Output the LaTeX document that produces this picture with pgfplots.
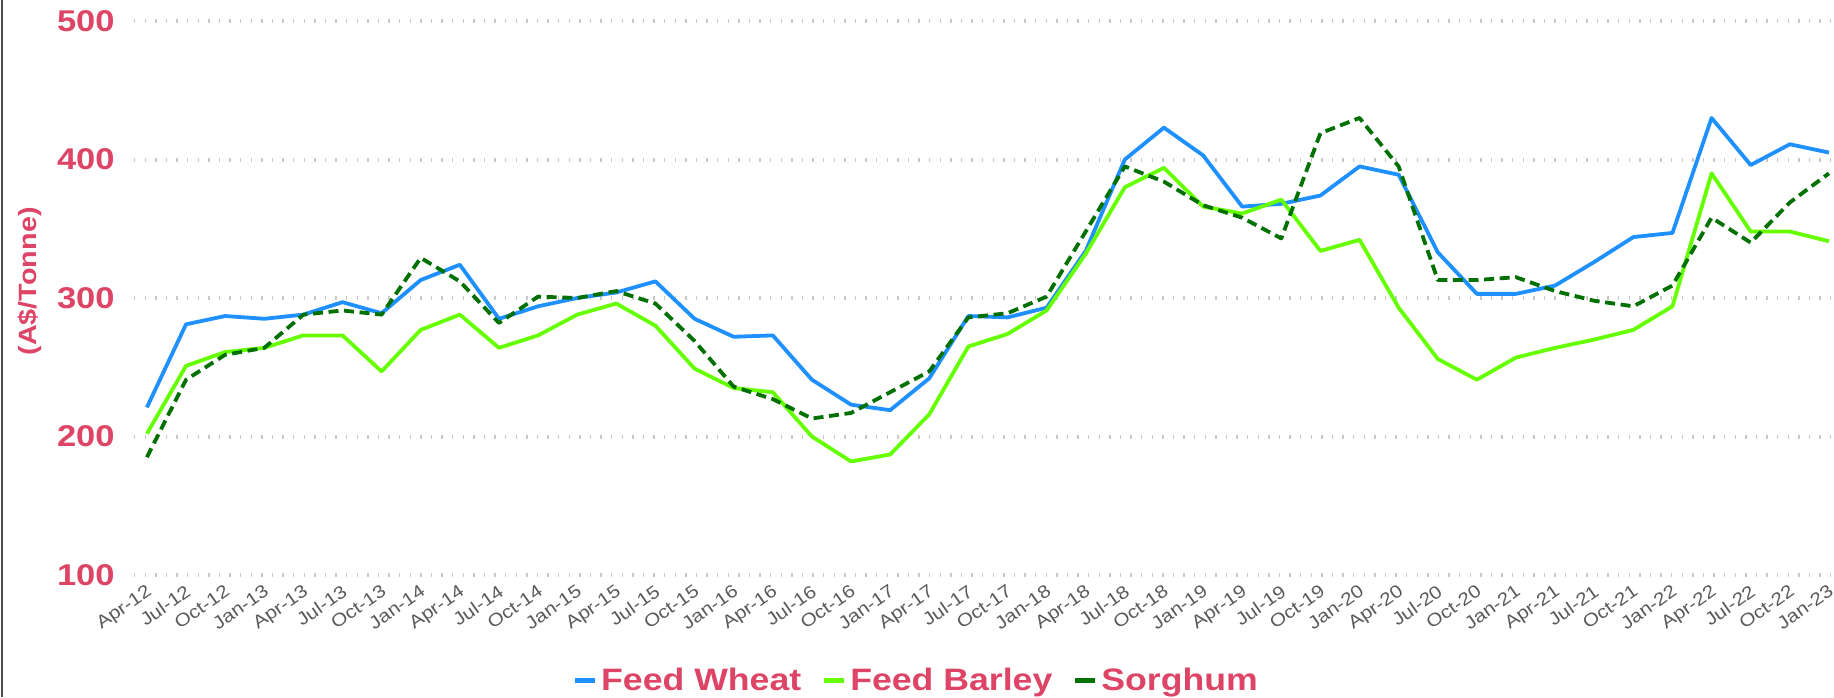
\documentclass[border=0pt]{standalone}
\usepackage{pgfplots}
\pgfplotsset{compat=1.18}
\usepackage{pgfplotstable}
\usepackage{fontspec}
\setmainfont{Liberation Sans}[FakeStretch=1.15]
\definecolor{wheat}{HTML}{1E90FF}
\definecolor{barley}{HTML}{66FF00}
\definecolor{sorghum}{HTML}{007000}
\definecolor{lab}{HTML}{DD4466}
\definecolor{tickc}{HTML}{5A5A5A}
\definecolor{gridc}{HTML}{C8C8C8}

\pgfplotstableread{
idx wheat barley sorghum
0 221 202 185
1 281 251 241
2 287 261 259
3 285 264 264
4 288 273 288
5 297 273 291
6 289 247 288
7 313 277 329
8 324 288 312
9 285 264 282
10 294 273 301
11 300 288 300
12 304 296 305
13 312 280 296
14 285 249 269
15 272 235 236
16 273 232 227
17 241 200 213
18 223 182 217
19 219 187 232
20 242 216 247
21 287 265 286
22 286 274 289
23 293 291 301
24 334 332 348
25 400 380 395
26 423 394 384
27 403 366 367
28 366 361 358
29 368 371 343
30 374 334 419
31 395 342 430
32 389 293 395
33 333 256 313
34 303 241 313
35 303 257 315
36 309 264 305
37 326 270 298
38 344 277 294
39 347 294 309
40 430 390 358
41 396 348 340
42 411 348 369
43 405 341 390
}\data

\begin{document}
\begin{tikzpicture}
\useasboundingbox (-67pt,-61pt) rectangle (850pt,287.5pt);
\draw[line width=1pt, black!70] (-66pt,-61pt) -- (-66pt,287.5pt);
\begin{axis}[
  at={(0,0)}, anchor=south west, scale only axis,
  width=850pt, height=277pt,
  xmin=-0.33, xmax=43.13, ymin=100, ymax=500,
  axis line style={draw=none},
  major tick length=0pt,
  ytick={100,200,300,400,500},
  xtick={0,...,43},
  xticklabels={Apr-12,Jul-12,Oct-12,Jan-13,Apr-13,Jul-13,Oct-13,Jan-14,Apr-14,Jul-14,Oct-14,Jan-15,Apr-15,Jul-15,Oct-15,Jan-16,Apr-16,Jul-16,Oct-16,Jan-17,Apr-17,Jul-17,Oct-17,Jan-18,Apr-18,Jul-18,Oct-18,Jan-19,Apr-19,Jul-19,Oct-19,Jan-20,Apr-20,Jul-20,Oct-20,Jan-21,Apr-21,Jul-21,Oct-21,Jan-22,Apr-22,Jul-22,Oct-22,Jan-23},
  xticklabel style={font=\fontsize{9}{10}\selectfont, text=tickc, rotate=35, anchor=north east, inner sep=0pt, xshift=-3pt, yshift=-3pt},
  yticklabel style={font=\fontsize{15}{16}\selectfont\bfseries, text=lab, anchor=east, inner sep=0pt, xshift=-9.5pt},
  /pgf/number format/assume math mode=true,
  ymajorgrids,
  grid style={gridc, line width=2pt, dash pattern=on 0.7pt off 4.6pt},
  ylabel={(A\$/Tonne)},
  every axis y label/.style={at={(axis description cs:-0.0612,0.53)}, rotate=90, anchor=center, font=\fontsize{12.5}{14}\selectfont\bfseries, text=lab},
  legend style={at={(rel axis cs:0.4606,-0.19)}, anchor=center, draw=none, fill=none, legend columns=3,
    font=\fontsize{15.5}{18}\selectfont\bfseries, text=lab,
    /tikz/every even column/.append style={column sep=8pt}},
  legend image code/.code={\draw[#1, line width=2.5pt, solid] (0pt,0pt) -- (10pt,0pt);},
]
\addplot[wheat, line width=1.9pt, line join=round] table[x=idx, y=wheat] {\data};
\addlegendentry{Feed Wheat}
\addplot[barley, line width=1.9pt, line join=round] table[x=idx, y=barley] {\data};
\addlegendentry{Feed Barley}
\addplot[sorghum, line width=1.9pt, line join=round, dash pattern=on 5pt off 2.8pt] table[x=idx, y=sorghum] {\data};
\addlegendentry{Sorghum}
\end{axis}
\end{tikzpicture}
\end{document}
